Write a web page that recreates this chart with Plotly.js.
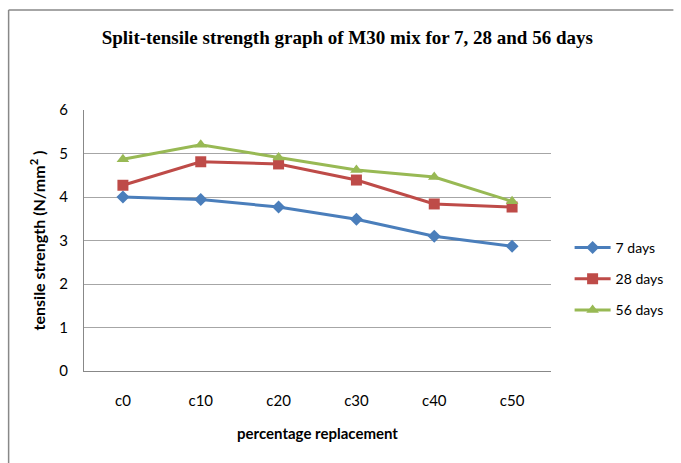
<!DOCTYPE html>
<html>
<head>
<meta charset="utf-8">
<script src="https://cdn.plot.ly/plotly-3.0.1.min.js"></script>
<style>html,body{margin:0;padding:0;background:#fff;}#chart{width:681px;height:463px;}</style>
</head>
<body>
<div id="chart"></div>
<script>
const categories = ["c0", "c10", "c20", "c30", "c40", "c50"];
const days7 = [4.00, 3.94, 3.77, 3.49, 3.10, 2.87];
const days28 = [4.27, 4.81, 4.76, 4.39, 3.84, 3.77];
const days56 = [4.87, 5.20, 4.91, 4.62, 4.46, 3.90];
const seriesNames = ["7 days", "28 days", "56 days"];
const yTicks = [0, 1, 2, 3, 4, 5, 6];

const L = 84, R = 561, T = 110, B = 371, W = 681, H = 463;
const pw = R - L, ph = B - T;
const px = v => (v - L) / pw;
const py = v => (B - v) / ph;
const FONT = 'Lato, Open Sans, sans-serif';

const traces = [
  {x: categories, y: days7, name: seriesNames[0], legendgroup: 'a', type: 'scatter', mode: 'lines+markers',
   line: {color: '#4a7ebb', width: 3}, marker: {symbol: 'diamond', size: 10, color: '#4a7ebb'}},
  {x: categories, y: days28, name: seriesNames[1], legendgroup: 'b', type: 'scatter', mode: 'lines+markers',
   line: {color: '#be4b48', width: 3}, marker: {symbol: 'square', size: 11, color: '#be4b48'}},
  {x: categories, y: days56, name: seriesNames[2], legendgroup: 'c', type: 'scatter', mode: 'lines+markers',
   line: {color: '#98b954', width: 3}, marker: {symbol: 'triangle-up', size: 11, color: '#98b954'}}
];

const layout = {
  width: W, height: H,
  margin: {l: L, r: W - R, t: T, b: H - B, pad: 0},
  paper_bgcolor: '#fff', plot_bgcolor: '#fff',
  showlegend: true,
  title: {text: '<b>Split-tensile strength graph of M30 mix for 7, 28 and 56 days</b>',
    font: {family: 'Liberation Serif, Times New Roman, serif', size: 19, color: '#000'},
    x: 0.51, xanchor: 'center', y: 1 - 37 / H, yanchor: 'middle'},
  xaxis: {
    type: 'category', showgrid: false, showline: true, linecolor: '#888', linewidth: 1,
    ticks: '', tickfont: {family: FONT, size: 15, color: '#000'},
    ticklabelstandoff: 16,
    title: {text: '<b>percentage replacement</b>', font: {family: FONT, size: 15, color: '#000'}, standoff: 20},
    range: [-0.5, 5.5], fixedrange: true
  },
  yaxis: {
    range: [0, 6], tickvals: yTicks, showgrid: true, gridcolor: '#a6a6a6', gridwidth: 1,
    showline: true, linecolor: '#888', linewidth: 1, zeroline: false, ticks: '',
    tickfont: {family: FONT, size: 15, color: '#000'},
    ticklabelstandoff: 12,
    title: {text: '<b>tensile strength (N/mm<sup>2</sup> )</b>', font: {family: FONT, size: 16, color: '#000'}, standoff: 9},
    fixedrange: true
  },
  legend: {x: px(580), y: py(232), xanchor: 'left', yanchor: 'top', bgcolor: 'rgba(0,0,0,0)',
    traceorder: 'grouped',
    font: {family: FONT, size: 14, color: '#000'}, tracegroupgap: 10, itemwidth: 36},
  shapes: [
    {type: 'line', xref: 'paper', yref: 'paper', x0: px(7), x1: px(W + 5), y0: py(10), y1: py(10), line: {color: '#888', width: 1.5}},
    {type: 'line', xref: 'paper', yref: 'paper', x0: px(7), x1: px(7), y0: py(10), y1: py(H + 5), line: {color: '#888', width: 1.5}}
  ]
};

Plotly.newPlot('chart', traces, layout, {staticPlot: true, displayModeBar: false});
</script>
</body>
</html>
